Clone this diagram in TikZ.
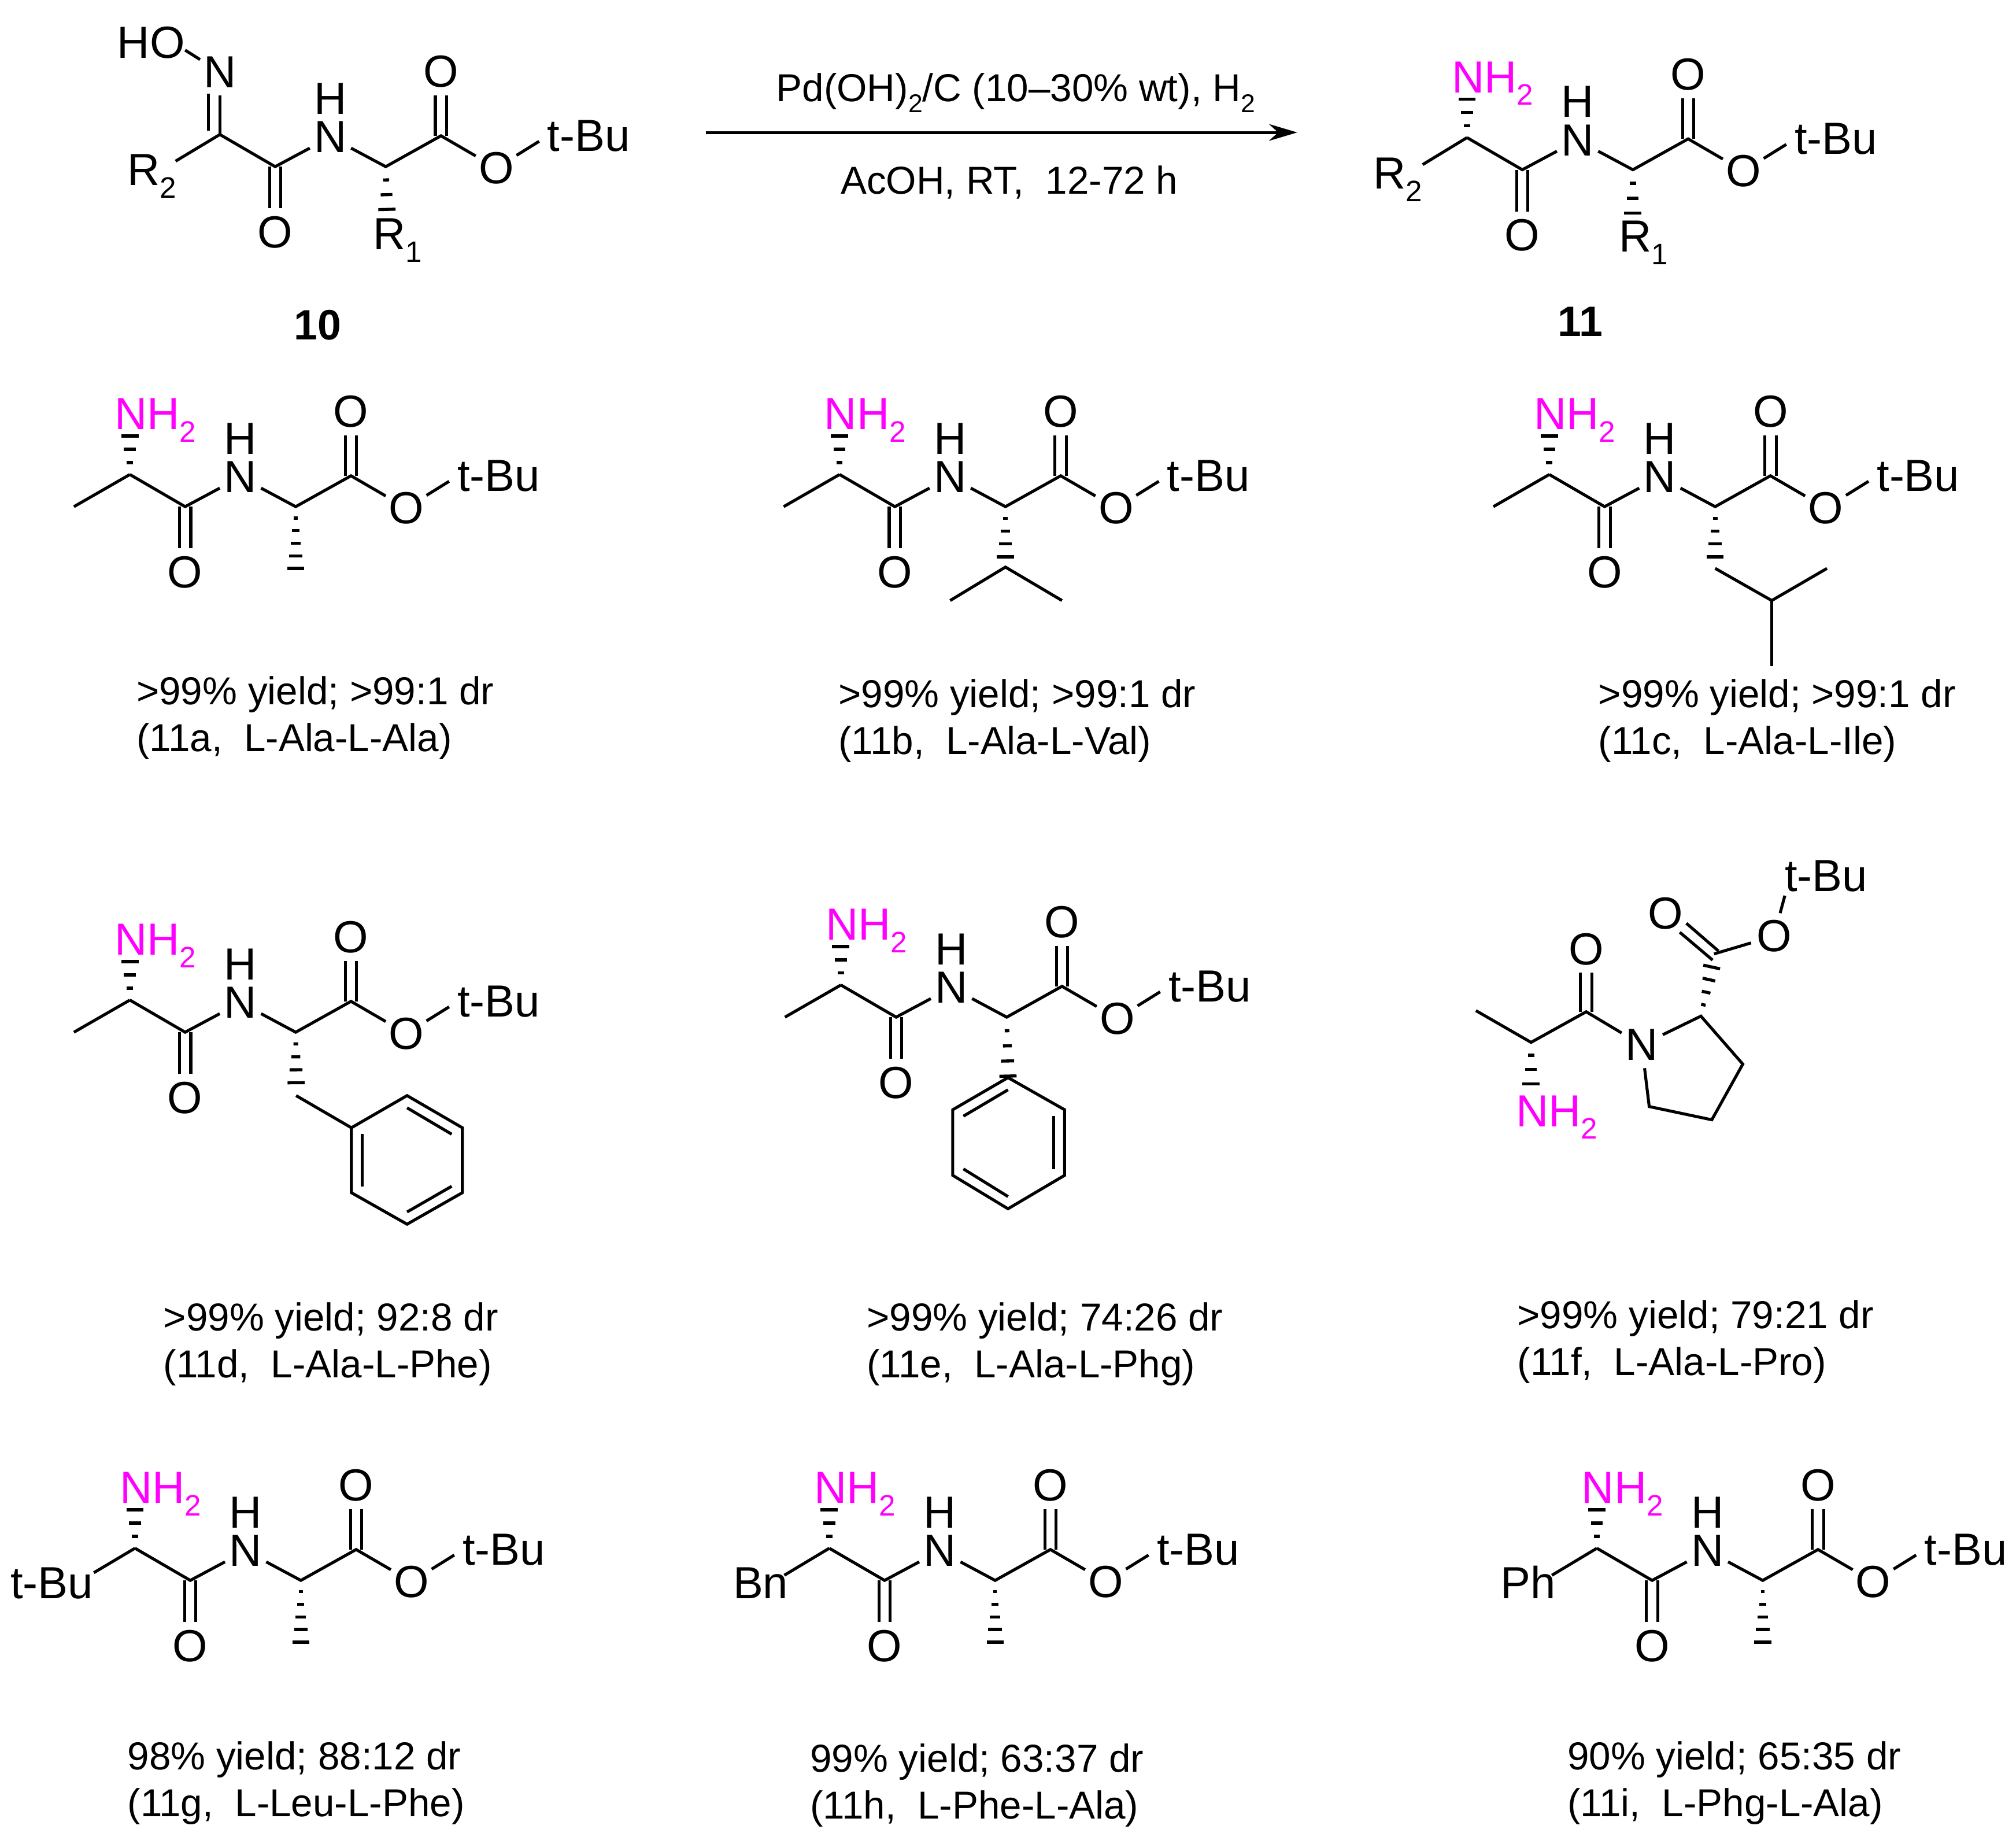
\documentclass[tikz,border=0pt]{standalone}
\usepackage{fontspec}
\setmainfont{Liberation Sans}
\usetikzlibrary{calc,arrows.meta}
\definecolor{nhpink}{RGB}{255,0,255}
\tikzset{
  bond/.style={line width=2.3pt,line cap=butt,line join=miter},
  atomc/.style={circle,inner sep=0pt,minimum size=36pt,font=\fontsize{35}{35}\selectfont},
  atomt/.style={inner sep=0pt,anchor=base west,font=\fontsize{35}{35}\selectfont},
  captxt/.style={inner sep=0pt,anchor=base west,font=\fontsize{30.3}{30.3}\selectfont},
  cpd/.style={inner sep=0pt,font=\bfseries\fontsize{33}{33}\selectfont},
}
\newcommand{\subt}[1]{\raisebox{-0.28em}{\fontsize{23}{23}\selectfont #1}}
% hashed wedge: dashes between two named points
\newcommand{\hashw}[4]{% from, to, dashes, max half width
  \foreach \i in {1,...,#3}{
    \pgfmathsetmacro{\hta}{(\i-0.1)/(#3)}
    \pgfmathsetmacro{\hww}{(#4)*(\i+0.1)/(#3)}
    \draw[line width=2.4pt] ($(#1)!\hta!(#2)!\hww pt!90:(#2)$) -- ($(#1)!\hta!(#2)!\hww pt!-90:(#2)$);
  }}
% common dipeptide backbone, origin at the N-terminal alpha carbon
\newcommand{\pep}[3]{% prefix, x, y
  \begin{scope}[shift={(#2,#3)}]
    \coordinate (#1ca) at (0,0);
    \coordinate (#1co) at (43,25);
    \node[atomc] (#1n) at (86,2) {N};
    \node[atomc] (#1h) at (86,-28) {H};
    \coordinate (#1cb) at (129,25);
    \coordinate (#1ce) at (172,1);
    \node[atomc] (#1ot) at (172,-49) {O};
    \node[atomc] (#1oe) at (215,26) {O};
    \node[atomc] (#1ob) at (43,76) {O};
    \node[atomt] (#1tb) at (254.6,13) {t-Bu};
    \coordinate (#1tbe) at (248.3,5.3);
    \draw[bond] (#1ca) -- (#1co) -- (#1n);
    \draw[bond] (#1n) -- (#1cb) -- (#1ce) -- (#1oe);
    \draw[bond] (#1oe) -- (#1tbe);
    \draw[bond] ($(#1co)+(-4.4,0)$) -- ($(#1ob.north)+(-4.4,0)$);
    \draw[bond] ($(#1co)+(4.4,0)$) -- ($(#1ob.north)+(4.4,0)$);
    \draw[bond] ($(#1ce)+(-4.4,0)$) -- ($(#1ot.south)+(-4.4,0)$);
    \draw[bond] ($(#1ce)+(4.4,0)$) -- ($(#1ot.south)+(4.4,0)$);
  \end{scope}}
% amine group on the N-terminal alpha carbon with hashed bond
\newcommand{\amine}[2]{% prefix, colour
  \node[atomt,text=#2] (#1nh) at ($(#1ca)+(-12,-35)$) {NH\subt{2}};
  \coordinate (#1nhe) at ($(#1ca)+(0,-31)$);
  \hashw{#1ca}{#1nhe}{3}{6.5}}
\newcommand{\memeth}[1]{\coordinate (#1mt) at ($(#1ca)+(-43.5,25)$); \draw[bond] (#1ca) -- (#1mt);}
\newcommand{\capt}[5]{% name, x, y, lines
  \node[captxt] (#1a) at (#2,#3+10) {#4};
  \node[captxt] (#1b) at (#2,#3+46.5) {#5};}
\begin{document}
\begin{tikzpicture}[x=1pt,y=-1pt]
\useasboundingbox (0,0) rectangle (1568,1425);
% --- reactant 10
\pep{a}{171}{104.6}
\node[atomt] (aho) at (91,45) {HO};
\node[atomc] (anox) at (171,56) {N};
\node[atomt] (ar2) at (99,144) {R\subt{2}};
\node[atomt] (ar1) at (290,194) {R\subt{1}};
\coordinate (ar2e) at (136.6,125.3);
\coordinate (ar1e) at (301,164);
\coordinate (ahoe) at (144,39);
\draw[bond] (aca) -- (ar2e);
\draw[bond] (ahoe) -- (anox);
\draw[bond] (aca) -- (anox);
\draw[bond] ($(aca)+(-8.9,-3)$) -- ($(anox)+(-8.9,17)$);
\hashw{acb}{ar1e}{3}{6.5}
% --- arrow
\coordinate (arl) at (549,103);
\coordinate (arr) at (1009,103);
\draw[line width=2.2pt,-{Stealth[length=22pt,width=13pt]}] (arl) -- (arr);
\node[captxt,anchor=base] (rgt1) at (790,79) {Pd(OH)\raisebox{-0.28em}{\fontsize{20}{20}\selectfont 2}/C (10–30\% wt), H\raisebox{-0.28em}{\fontsize{20}{20}\selectfont 2}};
\node[captxt,anchor=base] (rgt2) at (785,151) {AcOH, RT,\ \ 12-72 h};
% --- product 11
\pep{b}{1141}{107}
\amine{b}{nhpink}
\node[atomt] (br2) at (1068,147) {R\subt{2}};
\node[atomt] (br1) at (1259,196) {R\subt{1}};
\coordinate (br2e) at (1106.5,128);
\coordinate (br1e) at (1270,167);
\draw[bond] (bca) -- (br2e);
\hashw{bcb}{br1e}{3}{6.5}
\node[cpd] (c10) at (247,253) {10};
\node[cpd] (c11) at (1229,250) {11};
% --- 11a
\pep{c}{101}{369} \amine{c}{nhpink} \memeth{c}
\coordinate (cme) at (230,443);
\hashw{ccb}{cme}{5}{6.5}
\capt{ca}{106}{538}{>99\% yield; >99:1 dr}{(11a,\ \ L-Ala-L-Ala)}
% --- 11b
\pep{d}{653}{369} \amine{d}{nhpink} \memeth{d}
\coordinate (dch) at (782,441);
\coordinate (dhe) at (782,434);
\coordinate (dm1) at (739,467);
\coordinate (dm2) at (826,467);
\hashw{dcb}{dhe}{4}{6.5}
\draw[bond] (dm1) -- (dch) -- (dm2);
\capt{da}{652}{540}{>99\% yield; >99:1 dr}{(11b,\ \ L-Ala-L-Val)}
% --- 11c
\pep{e}{1205}{369} \amine{e}{nhpink} \memeth{e}
\coordinate (ech2) at (1334,442);
\coordinate (ehe) at (1334,434);
\coordinate (ech) at (1378,467);
\coordinate (em1) at (1421,442);
\coordinate (em2) at (1378,518);
\hashw{ecb}{ehe}{4}{6.5}
\draw[bond] (ech2) -- (ech) -- (em1);
\draw[bond] (ech) -- (em2);
\capt{ea}{1243}{540}{>99\% yield; >99:1 dr}{(11c,\ \ L-Ala-L-Ile)}
% --- 11d
\pep{f}{101}{777.7} \amine{f}{nhpink} \memeth{f}
\coordinate (fch2) at (230.3,852);
\coordinate (fhe) at (230.3,843);
\coordinate (fr1) at (273.3,877);
\coordinate (fr2) at (316.6,852);
\coordinate (fr3) at (359.6,877);
\coordinate (fr4) at (359.6,927.5);
\coordinate (fr5) at (316.6,952);
\coordinate (fr6) at (273.3,927.5);
\hashw{fcb}{fhe}{4}{6.5}
\draw[bond] (fch2) -- (fr1);
\draw[bond] (fr1) -- (fr2) -- (fr3) -- (fr4) -- (fr5) -- (fr6) -- cycle;
\draw[bond] ($(fr2)+(0,9.5)$) -- ($(fr3)+(-8.3,5)$);
\draw[bond] ($(fr4)+(-8.3,-5)$) -- ($(fr5)+(0,-9.5)$);
\draw[bond] ($(fr6)+(8.6,-5)$) -- ($(fr1)+(8.6,5)$);
\capt{fa}{127}{1025}{>99\% yield; 92:8 dr}{(11d,\ \ L-Ala-L-Phe)}
% --- 11e
\pep{g}{654}{766} \amine{g}{nhpink} \memeth{g}
\coordinate (gr1) at (784,838);
\coordinate (gr2) at (828,863);
\coordinate (gr3) at (828,914);
\coordinate (gr4) at (784,940);
\coordinate (gr5) at (741,914);
\coordinate (gr6) at (741,863);
\hashw{gcb}{gr1}{4}{6.5}
\draw[bond] (gr1) -- (gr2) -- (gr3) -- (gr4) -- (gr5) -- (gr6) -- cycle;
\draw[bond] ($(gr2)+(-8.6,5)$) -- ($(gr3)+(-8.6,-5)$);
\draw[bond] ($(gr4)+(0,-9.5)$) -- ($(gr5)+(8.3,-5)$);
\draw[bond] ($(gr6)+(8.3,5)$) -- ($(gr1)+(0,9.5)$);
\capt{ga}{674}{1025}{>99\% yield; 74:26 dr}{(11e,\ \ L-Ala-L-Phg)}
% --- 11f
\coordinate (hmt) at (1147.9,785.9);
\coordinate (hca) at (1190.8,810.6);
\coordinate (hco) at (1233.7,786.8);
\node[atomc] (hob) at (1233.7,738) {O};
\node[atomc] (hn) at (1276.9,812.6) {N};
\coordinate (hcp) at (1322.9,790.2);
\coordinate (hc5) at (1355.5,827.5);
\coordinate (hc6) at (1331.4,870.8);
\coordinate (hc7) at (1282.7,860.5);
\coordinate (hce) at (1333.1,741.8);
\node[atomc] (hoc) at (1295.6,710.2) {O};
\node[atomc] (hoe) at (1379.7,728) {O};
\node[atomt] (htb) at (1388,693) {t-Bu};
\draw[bond] (hmt) -- (hca) -- (hco) -- (hn) -- (hcp) -- (hc5) -- (hc6) -- (hc7) -- (hn);
\draw[bond] ($(hco)+(-4.4,0)$) -- ($(hob.south)+(-4.4,0)$);
\draw[bond] ($(hco)+(4.4,0)$) -- ($(hob.south)+(4.4,0)$);
\draw[bond] (1311.6,718) -- (1336.5,739.5);
\draw[bond] (1306.5,725) -- (1332,746.6);
\draw[bond] (hce) -- (hoe);
\coordinate (htbe) at (1388.2,696.5);
\draw[bond] (hoe) -- (htbe);
\node[atomt,text=nhpink] (hnh) at (1179,876) {NH\subt{2}};
\coordinate (hnhe) at (1190.8,844);
\hashw{hca}{hnhe}{3}{6.5}
\coordinate (hhe) at (1331.5,751);
\hashw{hcp}{hhe}{4}{6.5}
\capt{ha}{1180}{1023}{>99\% yield; 79:21 dr}{(11f,\ \ L-Ala-L-Pro)}
% --- 11g
\pep{i}{105}{1204} \amine{i}{nhpink}
\node[atomt] (itb) at (8,1243) {t-Bu};
\coordinate (irt) at (73,1223);
\draw[bond] (ica) -- (irt);
\coordinate (ime) at (234,1278);
\hashw{icb}{ime}{5}{6.5}
\capt{ia}{99}{1366}{98\% yield; 88:12 dr}{(11g,\ \ L-Leu-L-Phe)}
% --- 11h
\pep{j}{645}{1204} \amine{j}{nhpink}
\node[atomt] (jbn) at (570,1243) {Bn};
\coordinate (jrt) at (610,1225);
\draw[bond] (jca) -- (jrt);
\coordinate (jme) at (774,1278);
\hashw{jcb}{jme}{5}{6.5}
\capt{ja}{630}{1368}{99\% yield; 63:37 dr}{(11h,\ \ L-Phe-L-Ala)}
% --- 11i
\pep{k}{1242}{1204} \amine{k}{nhpink}
\node[atomt] (kph) at (1167,1243) {Ph};
\coordinate (krt) at (1207,1225);
\draw[bond] (kca) -- (krt);
\coordinate (kme) at (1371,1278);
\hashw{kcb}{kme}{5}{6.5}
\capt{ka}{1219}{1366}{90\% yield; 65:35 dr}{(11i,\ \ L-Phg-L-Ala)}
\end{tikzpicture}
\end{document}
